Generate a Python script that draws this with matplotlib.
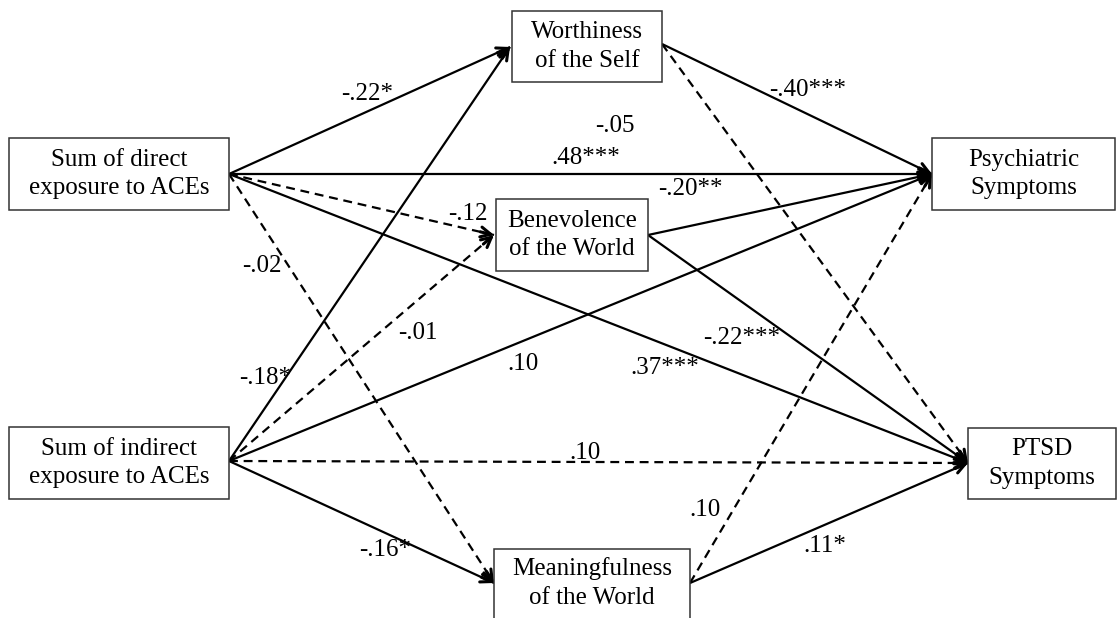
import matplotlib
matplotlib.use('Agg')
import matplotlib.pyplot as plt
from matplotlib.patches import Rectangle

plt.rcParams['font.family'] = ['Liberation Serif', 'DejaVu Serif']

# nodes of the path model
nodes = ['direct', 'indirect', 'worth', 'benev', 'meaning', 'psych', 'ptsd']
node_text = {
    'direct': 'Sum of direct\nexposure to ACEs',
    'indirect': 'Sum of indirect\nexposure to ACEs',
    'worth': 'Worthiness\nof the Self',
    'benev': 'Benevolence\nof the World',
    'meaning': 'Meaningfulness\nof the World',
    'psych': 'Psychiatric\nSymptoms',
    'ptsd': 'PTSD\nSymptoms',
}

# paths: source, target, coefficient, significant (solid) or not (dashed)
sources = ['direct', 'direct', 'direct', 'direct', 'direct',
           'indirect', 'indirect', 'indirect', 'indirect', 'indirect',
           'worth', 'worth', 'benev', 'benev', 'meaning', 'meaning']
targets = ['worth', 'psych', 'benev', 'ptsd', 'meaning',
           'worth', 'benev', 'psych', 'ptsd', 'meaning',
           'psych', 'ptsd', 'psych', 'ptsd', 'psych', 'ptsd']
coefs = ['-.22*', '.48***', '-.12', '.37***', '-.02',
         '-.18*', '-.01', '.10', '.10', '-.16*',
         '-.40***', '-.05', '-.20**', '-.22***', '.10', '.11*']
solid = [True, True, False, True, False,
         True, False, True, False, True,
         True, False, True, True, False, True]

# layout (pixel coords, y down)
box = {  # x0, y0, x1, y1
    'direct': (9, 138, 229, 210),
    'indirect': (9, 427, 229, 499),
    'worth': (512, 11, 662, 82),
    'benev': (496, 199, 648, 271),
    'meaning': (494, 549, 690, 640),
    'psych': (932, 138, 1115, 210),
    'ptsd': (968, 428, 1116, 499),
}
out_pt = {'direct': (229, 174), 'indirect': (229, 461), 'worth': (662, 44),
          'benev': (648, 235), 'meaning': (690, 583)}
in_pt = {'worth': (510, 47), 'benev': (494, 235), 'meaning': (494, 583),
         'psych': (932, 174), 'ptsd': (968, 463)}
label_pos = [(367, 94), (586, 158), (468, 214), (665, 368), (262, 266),
             (265, 378), (418, 333), (523, 364), (585, 453), (385, 550),
             (808, 90), (615, 126), (690, 189), (742, 338), (705, 510), (825, 546)]

fig = plt.figure(figsize=(11.18, 6.18), dpi=100)
ax = fig.add_axes([0, 0, 1, 1])
ax.set_xlim(0, 1118)
ax.set_ylim(618, 0)
ax.axis('off')

lw = 1.6
for s, t, c, sol, (lx, ly) in zip(sources, targets, coefs, solid, label_pos):
    x0, y0 = out_pt[s]
    x1, y1 = in_pt[t]
    ax.plot([x0, x1], [y0, y1], color='black', lw=lw,
            linestyle='-' if sol else (0, (4, 2.6)), zorder=1, solid_capstyle='butt')
    dx, dy = x1 - x0, y1 - y0
    d = (dx ** 2 + dy ** 2) ** 0.5
    ax.annotate('', xy=(x1, y1), xytext=(x1 - dx / d * 14, y1 - dy / d * 14),
                arrowprops=dict(arrowstyle='->', lw=2.2, color='black',
                                mutation_scale=18, shrinkA=0, shrinkB=0), zorder=2)
    ax.text(lx, ly, c, fontsize=18, ha='center', va='center', zorder=3)

for n in nodes:
    x0, y0, x1, y1 = box[n]
    ax.add_patch(Rectangle((x0, y0), x1 - x0, y1 - y0, facecolor='white',
                           edgecolor='#333333', lw=1.1, zorder=4))
    cy = (y0 + y1) / 2 if n != 'meaning' else 583
    ax.text((x0 + x1) / 2, cy, node_text[n], fontsize=18, ha='center',
            va='center', linespacing=1.4, zorder=5)

fig.savefig('out.png', dpi=100)
